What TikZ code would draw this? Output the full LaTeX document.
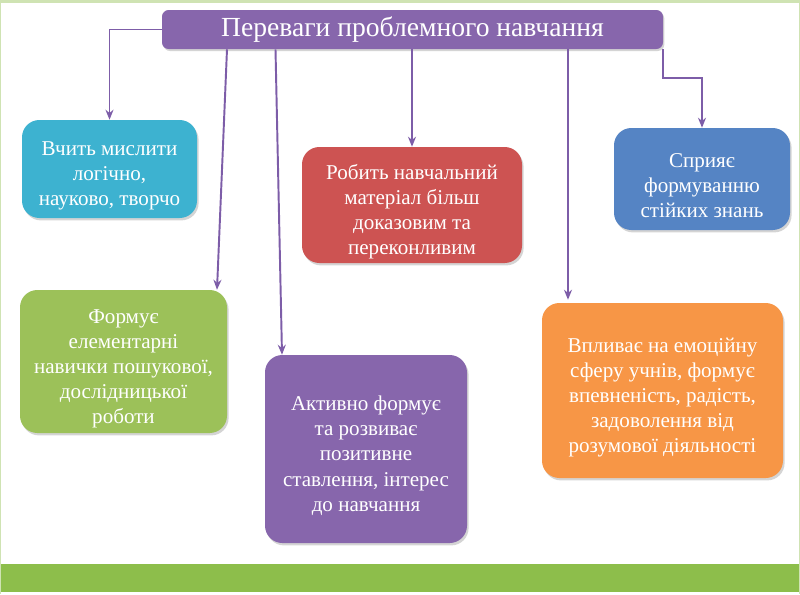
\documentclass[tikz,border=0pt]{standalone}
\usepackage{fontspec}
\setmainfont{Liberation Serif}
\usetikzlibrary{arrows.meta,shadows,calc}
\definecolor{titlepurple}{HTML}{8766AC}
\definecolor{linepurple}{HTML}{7D5DA8}
\definecolor{boxcyan}{HTML}{3DB2D0}
\definecolor{boxred}{HTML}{CD5352}
\definecolor{boxblue}{HTML}{5584C4}
\definecolor{boxgreen}{HTML}{9CC159}
\definecolor{boxpurple}{HTML}{8766AC}
\definecolor{boxorange}{HTML}{F79646}
\definecolor{bargreen}{HTML}{8DBE4B}
\definecolor{edgegreen}{HTML}{CFE3B3}
\newcommand{\cardgap}{\rule{0pt}{21pt}}
\tikzset{
  card/.style={rectangle, rounded corners=13pt, text=white, align=center, inner sep=0pt,
    font=\fontsize{15.8}{18.8}\selectfont,
    drop shadow={shadow xshift=1.2pt, shadow yshift=-1.8pt, opacity=0.28, fill=black!60}},
  headbox/.style={rectangle, rounded corners=5pt, fill=titlepurple, text=white, inner sep=0pt,
    font=\fontsize{20.7}{23}\selectfont,
    drop shadow={shadow xshift=1pt, shadow yshift=-1.5pt, opacity=0.28, fill=black!60}},
  link/.style={draw=linepurple, line width=1.45pt, -{Stealth[length=7.5pt,width=6pt]}}
}
\begin{document}
\begin{tikzpicture}[x=0.75pt,y=-0.75pt]
\useasboundingbox (0,0) rectangle (800,594);
\fill[white] (0,0) rectangle (800,594);
\fill[edgegreen] (0,0) rectangle (800,2.5);
\fill[bargreen] (0,564) rectangle (800,592);
\draw[edgegreen, line width=0.8pt] (0.5,0) -- (0.5,594) (799.5,0) -- (799.5,594);

\node[headbox, minimum width=375.75pt, minimum height=29.25pt] (title) at (412.5,29.5) {Переваги проблемного навчання};

\node[card, fill=boxcyan, minimum width=131.25pt, minimum height=73.5pt] (cyan) at (109.5,169)
  {\cardgap Вчить мислити\\логічно,\\науково, творчо};
\node[card, fill=boxred, minimum width=165pt, minimum height=87pt] (red) at (412,205)
  {\cardgap Робить навчальний\\матеріал більш\\доказовим та\\переконливим};
\node[card, fill=boxblue, minimum width=132pt, minimum height=76.5pt] (blue) at (702,179)
  {\cardgap Сприяє\\формуванню\\стійких знань};
\node[card, fill=boxgreen, minimum width=155.25pt, minimum height=107.25pt] (green) at (123.5,361.5)
  {\cardgap Формує\\елементарні\\навички пошукової,\\дослідницької\\роботи};
\node[card, fill=boxpurple, minimum width=151.5pt, minimum height=141pt] (purple) at (366,449)
  {\cardgap Активно формує\\та розвиває\\позитивне\\ставлення, інтерес\\до навчання};
\node[card, fill=boxorange, minimum width=180.75pt, minimum height=131.25pt] (orange) at (662.5,390.5)
  {\cardgap Впливає на емоційну\\сферу учнів, формує\\впевненість, радість,\\задоволення від\\розумової діяльності};

\coordinate (s1) at (227,48);
\coordinate (e1) at (217,288);
\coordinate (s2) at (275.5,48);
\coordinate (e2) at (282,353);
\coordinate (s4) at (568,48);

\draw[link] (title.west) -| (cyan.north);
\draw[link] (title.south east) -- ++(0,29) -| (blue.north);
\draw[link] (title.south -| s1) -- (e1 |- green.north);
\draw[link] (title.south -| s2) -- (e2 |- purple.north);
\draw[link] (title.south -| red.north) -- (red.north);
\draw[link] (title.south -| s4) -- ($(orange.north -| s4)+(0,-3)$);
\end{tikzpicture}
\end{document}
